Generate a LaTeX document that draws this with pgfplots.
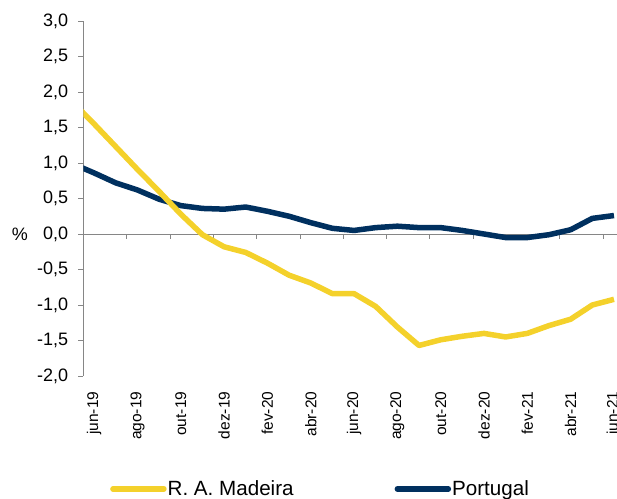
\documentclass[border=0pt]{standalone}
\usepackage{fontspec}
\setmainfont{Liberation Sans}
\usepackage{pgfplots}
\pgfplotsset{compat=1.18}
\usepackage{pgfplotstable}
\definecolor{mad}{HTML}{F4D12B}
\definecolor{por}{HTML}{00305F}
\definecolor{axg}{HTML}{868686}
\pgfplotstableread{
m mad por
-1 1.86 0.99
0 1.55 0.86
1 1.23 0.72
2 0.91 0.62
3 0.60 0.49
4 0.28 0.40
5 -0.01 0.36
6 -0.18 0.35
7 -0.26 0.38
8 -0.41 0.32
9 -0.58 0.25
10 -0.69 0.16
11 -0.84 0.08
12 -0.84 0.05
13 -1.02 0.09
14 -1.31 0.11
15 -1.57 0.09
16 -1.49 0.09
17 -1.44 0.05
18 -1.40 0.00
19 -1.45 -0.05
20 -1.40 -0.05
21 -1.29 -0.01
22 -1.20 0.06
23 -1.00 0.22
24 -0.92 0.26
}\datatab
\begin{document}
\begin{tikzpicture}
\useasboundingbox (0,0) rectangle (617pt,498pt);
\clip (0,0) rectangle (617pt,498pt);
\begin{axis}[
  at={(83.3pt,122pt)}, anchor=south west,
  scale only axis, width=533.7pt, height=355pt,
  xmin=-0.5, xmax=24.14, ymin=-2, ymax=3,
  axis y line*=left, axis x line*=bottom,
  x axis line style={draw=none},
  y axis line style={draw=axg, line width=0.8pt, -},
  ytick={-2,-1.5,-1,-0.5,0,0.5,1,1.5,2,2.5,3},
  ytick style={draw=axg, line width=0.8pt},
  tick align=outside, major tick length=5pt,
  xtick={0,2,...,24},
  xticklabels={jun-19,ago-19,out-19,dez-19,fev-20,abr-20,jun-20,ago-20,out-20,dez-20,fev-21,abr-21,jun-21},
  xtick style={draw=none},
  xticklabel style={rotate=90, anchor=east, inner sep=0pt, xshift=1.5pt, font=\fontsize{15.5}{15.5}\selectfont},
  xticklabel shift=12pt,
  yticklabel style={anchor=east, inner sep=0pt, font=\fontsize{18}{18}\selectfont},
  yticklabel shift=10pt,
  /pgf/number format/.cd, fixed, fixed zerofill, precision=1, use comma, assume math mode=true, /pgfplots/.cd,
  ylabel={\%},
  ylabel style={rotate=-90, at={(axis description cs:-0.1186,0.4)}, anchor=center, inner sep=0pt, font=\fontsize{18}{18}\selectfont},
  legend columns=2, reverse legend,
  legend style={draw=none, fill=none, at={(0.05,-0.318)}, anchor=west, inner sep=0pt,
    font=\fontsize{20.6}{20.6}\selectfont, nodes={inner sep=0pt},
    /tikz/every odd column/.append style={column sep=1pt},
    /tikz/every even column/.append style={column sep=101pt}},
  legend image code/.code={\draw[#1, line cap=round] (0pt,0pt) -- (51pt,0pt);},
]
\draw[axg, line width=0.8pt] (axis cs:-0.5,0) -- (axis cs:24.14,0);
\pgfplotsinvokeforeach{-0.5,1.5,3.5,5.5,7.5,9.5,11.5,13.5,15.5,17.5,19.5,21.5,23.5}{\draw[axg, line width=0.8pt] (axis cs:#1,0) -- ++(0pt,-5pt);}
\addplot[por, line width=5.5pt, line join=round] table[x=m, y=por] {\datatab};
\addlegendentry{Portugal}
\addplot[mad, line width=5.5pt, line join=round] table[x=m, y=mad] {\datatab};
\addlegendentry{R. A. Madeira}
\end{axis}
\end{tikzpicture}
\end{document}
